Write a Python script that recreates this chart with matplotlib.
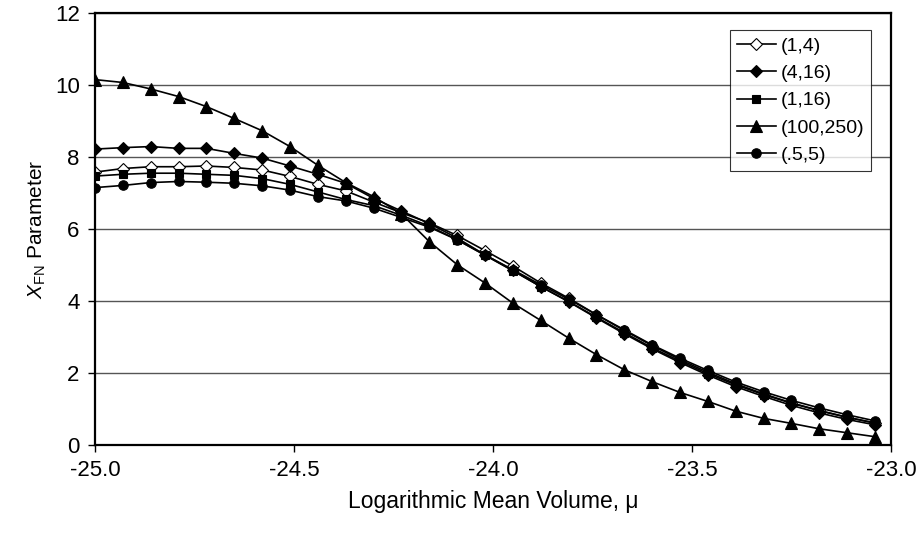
import matplotlib
matplotlib.use('Agg')
import matplotlib.pyplot as plt
from matplotlib.ticker import FormatStrFormatter

plt.rcParams['font.family'] = ['Liberation Sans', 'DejaVu Sans']
plt.rcParams['mathtext.fontset'] = 'custom'
plt.rcParams['mathtext.rm'] = 'Liberation Sans'
plt.rcParams['mathtext.it'] = 'Liberation Sans:italic'
plt.rcParams['axes.unicode_minus'] = False

# logarithmic mean volume
mu = [-25.00, -24.93, -24.86, -24.79, -24.72, -24.65, -24.58, -24.51, -24.44, -24.37,
      -24.30, -24.23, -24.16, -24.09, -24.02, -23.95, -23.88, -23.81, -23.74, -23.67,
      -23.60, -23.53, -23.46, -23.39, -23.32, -23.25, -23.18, -23.11, -23.04]

# X_FN parameter for each (a,b) pair
xfn_1_4 = [7.58, 7.68, 7.73, 7.73, 7.75, 7.71, 7.64, 7.46, 7.24, 7.06,
           6.75, 6.45, 6.17, 5.82, 5.40, 4.97, 4.50, 4.08, 3.62, 3.18,
           2.76, 2.37, 2.02, 1.70, 1.42, 1.17, 0.96, 0.77, 0.61]
xfn_4_16 = [8.22, 8.26, 8.29, 8.24, 8.24, 8.10, 7.97, 7.75, 7.52, 7.27,
            6.85, 6.50, 6.15, 5.75, 5.28, 4.85, 4.40, 3.98, 3.53, 3.09,
            2.67, 2.29, 1.94, 1.62, 1.35, 1.10, 0.89, 0.71, 0.56]
xfn_1_16 = [7.47, 7.52, 7.55, 7.55, 7.52, 7.49, 7.40, 7.24, 7.03, 6.82,
            6.65, 6.38, 6.08, 5.70, 5.27, 4.84, 4.40, 3.99, 3.55, 3.12,
            2.70, 2.33, 1.98, 1.67, 1.40, 1.16, 0.95, 0.77, 0.61]
xfn_100_250 = [10.15, 10.07, 9.89, 9.68, 9.40, 9.07, 8.73, 8.29, 7.77, 7.29,
               6.90, 6.42, 5.65, 5.01, 4.50, 3.94, 3.46, 2.97, 2.51, 2.09,
               1.76, 1.46, 1.21, 0.94, 0.74, 0.60, 0.45, 0.34, 0.23]
xfn_05_5 = [7.15, 7.21, 7.29, 7.32, 7.30, 7.27, 7.20, 7.08, 6.90, 6.78,
            6.58, 6.32, 6.05, 5.70, 5.28, 4.87, 4.45, 4.05, 3.62, 3.20,
            2.78, 2.41, 2.07, 1.75, 1.48, 1.24, 1.03, 0.84, 0.67]

series = [
    ('(1,4)', xfn_1_4, 'D', 6.2, 'white'),
    ('(4,16)', xfn_4_16, 'D', 6.2, 'black'),
    ('(1,16)', xfn_1_16, 's', 6.0, 'black'),
    ('(100,250)', xfn_100_250, '^', 8.8, 'black'),
    ('(.5,5)', xfn_05_5, 'o', 6.8, 'black'),
]

fig = plt.figure(figsize=(9.23, 5.33), dpi=100)
ax = fig.add_axes([0.1029, 0.1651, 0.8624, 0.8105])

for label, vals, marker, ms, face in series:
    ax.plot(mu, vals, color='black', lw=1.2, marker=marker, ms=ms,
            markerfacecolor=face, markeredgecolor='black', markeredgewidth=0.8,
            label=label)

ax.set_xlim(-25.0, -23.0)
ax.set_ylim(0, 12)
ax.set_xticks([-25.0, -24.5, -24.0, -23.5, -23.0])
ax.set_yticks([0, 2, 4, 6, 8, 10, 12])
ax.xaxis.set_major_formatter(FormatStrFormatter('%.1f'))
ax.tick_params(axis='both', direction='out', length=5, width=1, labelsize=16)
ax.tick_params(axis='x', pad=6)
ax.tick_params(axis='y', pad=6)
ax.yaxis.grid(True, color='#555555', lw=1)
ax.set_axisbelow(True)
for sp in ax.spines.values():
    sp.set_linewidth(1.6)

ax.set_xlabel('Logarithmic Mean Volume, μ', fontsize=16.5, labelpad=6)
ax.set_ylabel(r'$\mathit{X}_{\mathrm{FN}}$ Parameter', fontsize=15, labelpad=5)

leg = ax.legend(loc='upper right', bbox_to_anchor=(0.975, 0.96), fontsize=14,
                frameon=True, fancybox=False, edgecolor='black',
                handlelength=2.0, handletextpad=0.25, labelspacing=0.5,
                borderpad=0.35, borderaxespad=0)
leg.get_frame().set_linewidth(0.8)

fig.savefig('out.png', dpi=100)
